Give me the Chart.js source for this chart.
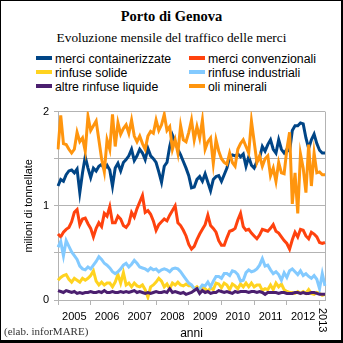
<!DOCTYPE html>
<html>
<head>
<meta charset="utf-8">
<script src="https://cdn.jsdelivr.net/npm/chart.js@4.4.1/dist/chart.umd.min.js"></script>
<style>
    html, body { margin: 0; padding: 0; background: #fff; }
    #wrap { position: relative; width: 343px; height: 343px; overflow: hidden; font-family: "Liberation Sans", Arial, sans-serif; }
    #frame { position: absolute; left: 0; top: 0; width: 343px; height: 343px; box-sizing: border-box;
             border: solid #000; border-width: 1px 2px 3px 1px; pointer-events: none; }
    .serif { position: absolute; left: 0; width: 343px; text-align: center; color: #000;
             font-family: "Liberation Serif", "Times New Roman", serif; white-space: nowrap; }
    #titolo { top: 8px; font-size: 14.5px; font-weight: bold; }
    #sottotitolo { top: 30px; font-size: 13.3px; }
    .voce { position: absolute; font-size: 12.3px; color: #000; white-space: nowrap; line-height: 14px; }
    .voce span { display: inline-block; width: 16px; height: 4px; margin-right: 3px; vertical-align: 3px; }
    #fonte { position: absolute; left: 4px; top: 325px; font-family: "Liberation Serif", "Times New Roman", serif;
             font-size: 11px; color: #333; }
    #grafico { position: absolute; left: 0; top: 100px; }
</style>
</head>
<body>
<div id="wrap">
    <div id="titolo" class="serif">Porto di Genova</div>
    <div id="sottotitolo" class="serif">Evoluzione mensile del traffico delle merci</div>
    <div id="legenda"></div>
    <canvas id="grafico" width="343" height="241"></canvas>
    <div id="fonte">(elab. inforMARE)</div>
    <div id="frame"></div>
</div>
<script>
// Serie mensili da gennaio 2005 (milioni di tonnellate)
const anni = ['2005', '2006', '2007', '2008', '2009', '2010', '2011', '2012', '2013'];

const containerizzate = [
    1.21, 1.28, 1.26, 1.33, 1.37, 1.38, 1.35, 1.39, 1.14, 1.35,
    1.52, 1.40, 1.30, 1.40, 1.37, 1.42, 1.44, 1.39, 1.43, 1.38,
    1.21, 1.40, 1.45, 1.37, 1.46, 1.49, 1.53, 1.60, 1.48, 1.53,
    1.60, 1.56, 1.49, 1.61, 1.53, 1.50, 1.46, 1.36, 1.25, 1.42,
    1.46, 1.63, 1.75, 1.68, 1.60, 1.54, 1.47, 1.40, 1.32, 1.19,
    1.20, 1.28, 1.31, 1.26, 1.34, 1.25, 1.16, 1.28, 1.31, 1.32,
    1.26, 1.33, 1.40, 1.52, 1.54, 1.53, 1.55, 1.52, 1.55, 1.42,
    1.52, 1.43, 1.40, 1.47, 1.51, 1.63, 1.58, 1.65, 1.70, 1.60,
    1.56, 1.70, 1.60, 1.56, 1.60, 1.58, 1.80, 1.85, 1.85, 1.88,
    1.87, 1.72, 1.61, 1.70, 1.76, 1.66, 1.59, 1.56, 1.56
];
const convenzionali = [
    0.70, 0.67, 0.72, 0.75, 0.77, 0.83, 0.93, 0.96, 0.80, 0.86,
    0.87, 0.81, 0.76, 0.67, 0.76, 0.82, 0.78, 0.92, 0.89, 0.99,
    0.82, 0.82, 0.89, 0.86, 0.79, 0.77, 0.81, 0.93, 0.88, 0.97,
    1.04, 1.11, 0.93, 0.95, 0.91, 0.84, 0.74, 0.80, 0.83, 0.86,
    0.84, 0.90, 0.95, 1.00, 0.82, 0.79, 0.74, 0.68, 0.59, 0.54,
    0.57, 0.64, 0.70, 0.75, 0.80, 0.90, 0.79, 0.76, 0.72, 0.63,
    0.58, 0.58, 0.66, 0.73, 0.74, 0.76, 0.85, 0.92, 0.78, 0.74,
    0.75, 0.71, 0.68, 0.65, 0.69, 0.75, 0.74, 0.73, 0.76, 0.80,
    0.73, 0.71, 0.67, 0.63, 0.60, 0.54, 0.64, 0.72, 0.67, 0.75,
    0.74, 0.68, 0.65, 0.72, 0.70, 0.67, 0.61, 0.60, 0.61
];
const rinfuseSolide = [
    0.21, 0.24, 0.26, 0.27, 0.22, 0.19, 0.23, 0.21, 0.19, 0.23,
    0.21, 0.23, 0.26, 0.31, 0.20, 0.16, 0.19, 0.16, 0.18, 0.18,
    0.14, 0.19, 0.27, 0.18, 0.29, 0.16, 0.18, 0.14, 0.18, 0.15,
    0.14, 0.16, 0.11, 0.03, 0.14, 0.16, 0.19, 0.23, 0.20, 0.14,
    0.17, 0.12, 0.18, 0.16, 0.19, 0.16, 0.15, 0.17, 0.15, 0.15,
    0.12, 0.14, 0.11, 0.14, 0.12, 0.09, 0.13, 0.11, 0.18, 0.17,
    0.13, 0.18, 0.16, 0.11, 0.17, 0.15, 0.12, 0.17, 0.14, 0.18,
    0.14, 0.18, 0.14, 0.16, 0.16, 0.10, 0.12, 0.11, 0.16, 0.11,
    0.18, 0.14, 0.17, 0.11, 0.09, 0.08, 0.08, 0.07, 0.09, 0.07,
    0.09, 0.07, 0.11, 0.07, 0.06, 0.08, 0.07, 0.05, 0.06
];
const rinfuseIndustriali = [
    0.56, 0.62, 0.47, 0.63, 0.57, 0.51, 0.47, 0.43, 0.36, 0.33,
    0.32, 0.35, 0.33, 0.37, 0.41, 0.46, 0.43, 0.39, 0.37, 0.34,
    0.30, 0.28, 0.30, 0.33, 0.37, 0.39, 0.35, 0.38, 0.42, 0.39,
    0.35, 0.34, 0.33, 0.31, 0.34, 0.32, 0.33, 0.30, 0.32, 0.33,
    0.32, 0.30, 0.33, 0.34, 0.33, 0.30, 0.26, 0.22, 0.18, 0.16,
    0.12, 0.11, 0.12, 0.16, 0.15, 0.19, 0.14, 0.20, 0.25, 0.25,
    0.23, 0.28, 0.28, 0.26, 0.31, 0.30, 0.27, 0.20, 0.21, 0.29,
    0.32, 0.30, 0.31, 0.33, 0.37, 0.44, 0.36, 0.37, 0.32, 0.28,
    0.30, 0.27, 0.21, 0.29, 0.24, 0.31, 0.33, 0.30, 0.27, 0.31,
    0.26, 0.28, 0.25, 0.23, 0.26, 0.22, 0.12, 0.28, 0.15
];
const altreLiquide = [
    0.10, 0.09, 0.08, 0.10, 0.09, 0.08, 0.09, 0.07, 0.08, 0.07,
    0.08, 0.08, 0.09, 0.08, 0.08, 0.09, 0.08, 0.10, 0.08, 0.08,
    0.09, 0.08, 0.08, 0.09, 0.08, 0.09, 0.08, 0.09, 0.10, 0.08,
    0.09, 0.08, 0.07, 0.08, 0.07, 0.08, 0.09, 0.08, 0.08, 0.09,
    0.08, 0.12, 0.08, 0.09, 0.08, 0.07, 0.08, 0.06, 0.07, 0.08,
    0.10, 0.12, 0.07, 0.10, 0.08, 0.09, 0.07, 0.08, 0.08, 0.10,
    0.09, 0.08, 0.09, 0.08, 0.07, 0.09, 0.08, 0.09, 0.09, 0.09,
    0.08, 0.09, 0.09, 0.08, 0.09, 0.08, 0.06, 0.08, 0.08, 0.08,
    0.08, 0.07, 0.08, 0.08, 0.07, 0.07, 0.07, 0.08, 0.08, 0.07,
    0.08, 0.07, 0.07, 0.08, 0.08, 0.07, 0.06, 0.06, 0.06
];
const oliMinerali = [
    1.60, 1.96, 1.66, 1.65, 1.60, 1.56, 1.60, 1.78, 1.68, 1.72,
    1.58, 1.95, 1.80, 1.85, 1.90, 1.70, 1.50, 1.36, 1.70, 1.60,
    1.97, 1.63, 1.88, 1.76, 1.82, 1.86, 1.77, 1.91, 1.74, 1.68,
    1.74, 1.66, 1.60, 1.74, 1.79, 1.77, 1.91, 1.80, 1.86, 1.97,
    1.80, 1.84, 1.60, 1.70, 1.56, 1.85, 1.70, 1.68, 1.78, 1.91,
    1.70, 1.84, 1.72, 1.91, 1.60, 1.68, 1.72, 1.45, 1.70, 1.58,
    1.50, 1.46, 1.44, 1.56, 1.46, 1.42, 1.60, 1.66, 1.70, 1.63,
    1.56, 1.90, 1.68, 1.46, 1.53, 1.42, 1.50, 1.53, 1.32, 1.40,
    1.26, 1.46, 1.35, 1.34, 1.60, 1.78, 1.02, 1.35, 0.92, 1.55,
    1.40, 1.14, 1.65, 1.21, 1.56, 1.35, 1.36, 1.33, 1.33
];

const serie = [
    { nome: 'merci containerizzate', dati: containerizzate, colore: '#004586' },
    { nome: 'merci convenzionali', dati: convenzionali, colore: '#ff420e' },
    { nome: 'rinfuse solide', dati: rinfuseSolide, colore: '#ffd320' },
    { nome: 'rinfuse industriali', dati: rinfuseIndustriali, colore: '#83caff' },
    { nome: 'altre rinfuse liquide', dati: altreLiquide, colore: '#4b1f6f' },
    { nome: 'oli minerali', dati: oliMinerali, colore: '#ff950e' }
];

// etichette mensili
const mesi = containerizzate.map((v, i) => anni[Math.floor(i / 12)] + '-' + (i % 12 + 1));

// legenda a due colonne
const legenda = document.getElementById('legenda');
serie.forEach((s, i) => {
    const d = document.createElement('div');
    d.className = 'voce';
    d.style.left = (i % 2 === 0 ? 36 : 189) + 'px';
    d.style.top = (52 + Math.floor(i / 2) * 14) + 'px';
    d.innerHTML = '<span style="background:' + s.colore + '"></span>' + s.nome;
    legenda.appendChild(d);
});

const grigio = '#b3b3b3';

// bordo destro dell'area e ultima etichetta ruotata
const extra = {
    id: 'extra',
    beforeDatasetsDraw(chart) {
        const { ctx, chartArea } = chart;
        ctx.save();
        ctx.strokeStyle = grigio;
        ctx.lineWidth = 1;
        ctx.beginPath();
        ctx.moveTo(chartArea.right + 0.5, chartArea.top);
        ctx.lineTo(chartArea.right + 0.5, chartArea.bottom);
        ctx.stroke();
        ctx.restore();
    },
    afterDraw(chart) {
        const { ctx, chartArea } = chart;
        const x = chart.scales.x.getPixelForValue(97);
        ctx.save();
        ctx.font = '11px "Liberation Sans", Arial, sans-serif';
        ctx.fillStyle = '#000';
        ctx.translate(x, chartArea.bottom + 8);
        ctx.rotate(Math.PI / 2);
        ctx.textBaseline = 'middle';
        ctx.fillText(anni[8], 0, 0);
        ctx.restore();
    }
};

Chart.defaults.font.family = '"Liberation Sans", Arial, sans-serif';
Chart.defaults.font.size = 11;
Chart.defaults.color = '#000';

new Chart(document.getElementById('grafico'), {
    type: 'line',
    data: {
        labels: mesi,
        datasets: serie.map((s, i) => ({
            label: s.nome,
            data: s.dati,
            borderColor: s.colore,
            backgroundColor: s.colore,
            borderWidth: 3,
            pointRadius: 0,
            tension: 0,
            order: -i // le serie successive sopra le precedenti
        }))
    },
    options: {
        responsive: false,
        animation: false,
        layout: { padding: { top: 10, right: 18, left: 0, bottom: 0 } },
        plugins: {
            legend: { display: false },
            tooltip: { enabled: false }
        },
        scales: {
            x: {
                offset: false,
                afterFit: (scale) => { scale.height = 41; },
                grid: {
                    drawOnChartArea: false,
                    tickLength: 5,
                    color: (c) => (c.index % 12 === 0 ? grigio : 'rgba(0,0,0,0)')
                },
                border: { color: grigio },
                ticks: {
                    autoSkip: false,
                    maxRotation: 0,
                    padding: 5,
                    callback: (v, i) => (i % 12 === 6 && i < 96 ? anni[Math.floor(i / 12)] : '')
                },
                title: { display: true, text: 'anni', font: { size: 12 }, padding: { top: 0, bottom: 0 } }
            },
            y: {
                min: 0,
                max: 2,
                afterFit: (scale) => { scale.width = 58; },
                grid: { color: grigio, tickLength: 4 },
                border: { color: grigio },
                ticks: {
                    stepSize: 0.5,
                    padding: 5,
                    callback: (v) => (Number.isInteger(v) ? v : '')
                },
                title: { display: true, text: 'milioni di tonnellate', padding: { top: 22, bottom: 0 } }
            }
        }
    },
    plugins: [extra]
});
</script>
</body>
</html>
